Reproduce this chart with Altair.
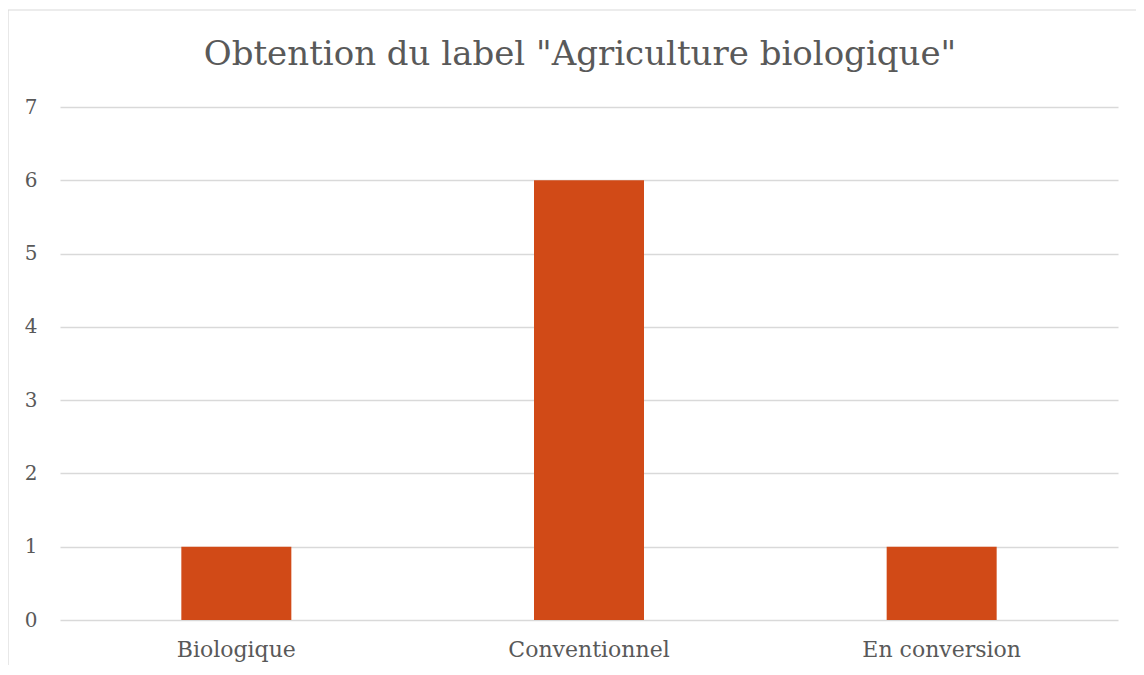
import altair as alt
import pandas as pd

categories = ["Biologique", "Conventionnel", "En conversion"]
values = [1, 6, 1]
y_ticks = [0, 1, 2, 3, 4, 5, 6, 7]
title_text = 'Obtention du label "Agriculture biologique"'

df = pd.DataFrame({"cat": categories, "val": values})

FONT = "DejaVu Serif"
TXT = "#595959"
GRID = "#d9d9d9"

bars = alt.Chart(df).mark_bar(color="#D14A17", size=110).encode(
    x=alt.X("cat:N", sort=categories, title=None,
            scale=alt.Scale(paddingInner=0, paddingOuter=0),
            axis=alt.Axis(labelAngle=0, labelFont=FONT, labelFontSize=22,
                          labelColor=TXT, labelPadding=19, ticks=False,
                          domain=False, grid=False)),
    y=alt.Y("val:Q", title=None,
            scale=alt.Scale(domain=[0, 7], nice=False),
            axis=alt.Axis(values=y_ticks, labelFont=FONT, labelFontSize=20,
                          labelColor=TXT, labelPadding=23, ticks=False,
                          domain=False, grid=True, gridColor=GRID,
                          gridWidth=1.4)),
)

border_df = pd.DataFrame({"k": [0]})
left_border = alt.Chart(border_df).mark_rule(color=GRID, strokeWidth=1.2).encode(
    x=alt.value(-52), y=alt.value(-97), y2=alt.value(560))
top_border = alt.Chart(border_df).mark_rule(color=GRID, strokeWidth=1.2).encode(
    x=alt.value(-52), x2=alt.value(1080), y=alt.value(-97))

title_df = pd.DataFrame({"t": [title_text]})
title = alt.Chart(title_df).mark_text(
    font=FONT, fontSize=34, color=TXT, align="center", baseline="alphabetic"
).encode(text="t:N", x=alt.value(520), y=alt.value(-42))

chart = alt.layer(left_border, top_border, bars, title).properties(
    width=1058, height=513,
    autosize=alt.AutoSizeParams(type="none"),
    padding={"left": 52, "top": 99, "right": 18, "bottom": 45},
).configure_view(stroke=None)

chart.save("out.html", embed_options={"renderer": "svg", "actions": False})
